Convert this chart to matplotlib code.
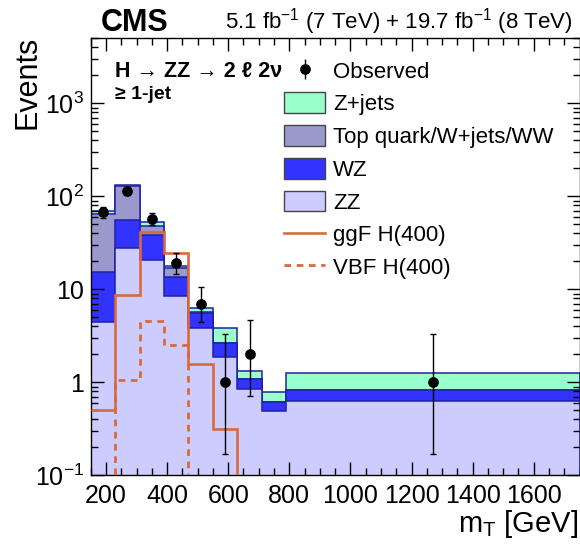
import numpy as np
import matplotlib
matplotlib.use('Agg')
import matplotlib.pyplot as plt
from matplotlib.patches import Patch
from matplotlib.lines import Line2D
from matplotlib.ticker import FixedLocator, FixedFormatter, LogLocator, NullFormatter, MultipleLocator

# binning in m_T [GeV]
edges = [150, 230, 310, 390, 470, 550, 630, 710, 790, 1750]

# backgrounds (per process, stacked in this order)
zz = [4.5, 27.7, 20.9, 8.4, 3.8, 1.87, 0.84, 0.49, 0.63]
wz = [10.8, 28.1, 17.6, 5.1, 1.8, 0.80, 0.24, 0.12, 0.19]
top_wjets_ww = [49.1, 73.2, 10.0, 3.4, 0.05, 0.0, 0.0, 0.0, 0.0]
zjets = [5.0, 2.0, 4.1, 0.8, 0.6, 1.2, 0.24, 0.18, 0.44]

# signals
ggf_h400 = [0.5, 8.6, 41.8, 24.7, 1.56, 0.316, 0.0, 0.0, 0.0]
vbf_h400 = [0.0, 1.05, 4.6, 2.5, 0.0, 0.0, 0.0, 0.0, 0.0]

# data
observed = [67, 113, 57, 19, 7, 1, 2, 0, 1]
obs_err_lo = [8.2, 10.6, 7.5, 4.4, 2.6, 0.83, 1.29, 0.0, 0.83]
obs_err_hi = [9.2, 11.6, 8.6, 5.3, 3.6, 2.3, 2.64, 0.0, 2.3]

plt.rcParams['font.family'] = ['Liberation Sans', 'DejaVu Sans']
plt.rcParams['mathtext.default'] = 'regular'
plt.rcParams['axes.linewidth'] = 1.0

fig = plt.figure(figsize=(5.8, 5.47), dpi=100)
ax = fig.add_axes([0.1564, 0.1311, 0.8428, 0.7989])

edges_arr = np.array(edges, dtype=float)
centers = 0.5 * (edges_arr[1:] + edges_arr[:-1])

stack = [('ZZ', zz, '#ccccff'),
         ('WZ', wz, '#3333ff'),
         ('Top quark/W+jets/WW', top_wjets_ww, '#9999cc'),
         ('Z+jets', zjets, '#99ffcc')]
cum = np.cumsum([np.array(v, dtype=float) for _, v, _ in stack], axis=0)
edge_col = '#2020a0'
for i in reversed(range(len(stack))):
    ax.stairs(cum[i], edges_arr, baseline=1e-3, fill=True,
              facecolor=stack[i][2], edgecolor=edge_col, linewidth=1.1, zorder=1)

sig_col = '#d86a3c'
ax.stairs(ggf_h400, edges_arr, baseline=None, color=sig_col, linewidth=1.9, zorder=3)
ax.stairs(vbf_h400, edges_arr, baseline=None, color=sig_col, linewidth=2.0,
          linestyle=(0, (2.4, 2.0)), zorder=3)

obs = np.array(observed, dtype=float)
lo = np.array(obs_err_lo)
hi = np.array(obs_err_hi)
m = obs > 0
ax.errorbar(centers[m], obs[m], yerr=[lo[m], hi[m]], fmt='o', color='k',
            ms=6.7, lw=1.0, capsize=2.0, capthick=1.0, zorder=5)

ax.set_yscale('log')
ax.set_xlim(150, 1750)
ax.set_ylim(0.1, 5000)

ax.xaxis.set_major_locator(MultipleLocator(200))
ax.xaxis.set_minor_locator(MultipleLocator(50))
ax.yaxis.set_major_locator(FixedLocator([0.1, 1, 10, 100, 1000]))
ax.yaxis.set_major_formatter(FixedFormatter([r'$10^{-1}$', '1', '10', r'$10^{2}$', r'$10^{3}$']))
ax.yaxis.set_minor_locator(LogLocator(base=10, subs=np.arange(2, 10)))
ax.yaxis.set_minor_formatter(NullFormatter())
ax.tick_params(which='both', direction='in', top=True, right=True, labelsize=18)
ax.tick_params(which='major', length=9.4, width=1.0)
ax.tick_params(which='minor', length=4.7, width=1.0)
ax.tick_params(axis='x', pad=6)
ax.tick_params(axis='y', pad=5)

# legend
handles = [(Line2D([], [], marker='|', ms=15, mew=1.0, color='k', ls='none'),
            Line2D([], [], marker='o', ms=6.7, color='k', ls='none'))]
labels = ['Observed']
for name, _, col in reversed(stack):
    handles.append(Patch(facecolor=col, edgecolor='#444444', linewidth=1.0))
    labels.append(name)
handles.append(Line2D([], [], color=sig_col, lw=1.9))
labels.append('ggF H(400)')
handles.append(Line2D([], [], color=sig_col, lw=2.0, ls=(0, (2.4, 2.0))))
labels.append('VBF H(400)')
ax.legend(handles, labels, loc='upper left', bbox_to_anchor=(0.3955, 0.951),
          frameon=False, fontsize=16, borderpad=0, borderaxespad=0,
          handlelength=1.85, handleheight=1.05, handletextpad=0.35, labelspacing=0.445)

ax.text(0.0497, 0.9108, 'H \u2192 ZZ \u2192 2 \u2113 2\u03bd', transform=ax.transAxes,
        fontsize=15.5, fontweight='bold', ha='left', va='baseline')
ax.text(0.0497, 0.860, '\u2265 1-jet', transform=ax.transAxes,
        fontsize=14, fontweight='bold', ha='left', va='baseline')

fig.text(101 / 580, 1 - 30.7 / 547, 'CMS', fontsize=22, fontweight='bold',
         ha='left', va='baseline')
fig.text(573 / 580, 1 - 28.5 / 547,
         r'5.1 fb$^{-1}$ (7 TeV) + 19.7 fb$^{-1}$ (8 TeV)', fontsize=16,
         ha='right', va='baseline')
fig.text(27 / 580, 1 - 36 / 547, 'Events', fontsize=22, rotation=90,
         ha='center', va='top')
fig.text(578 / 580, 1 - 532.5 / 547, r'm$_{T}$ [GeV]', fontsize=21,
         ha='right', va='baseline')

fig.savefig('out.png', dpi=100)
